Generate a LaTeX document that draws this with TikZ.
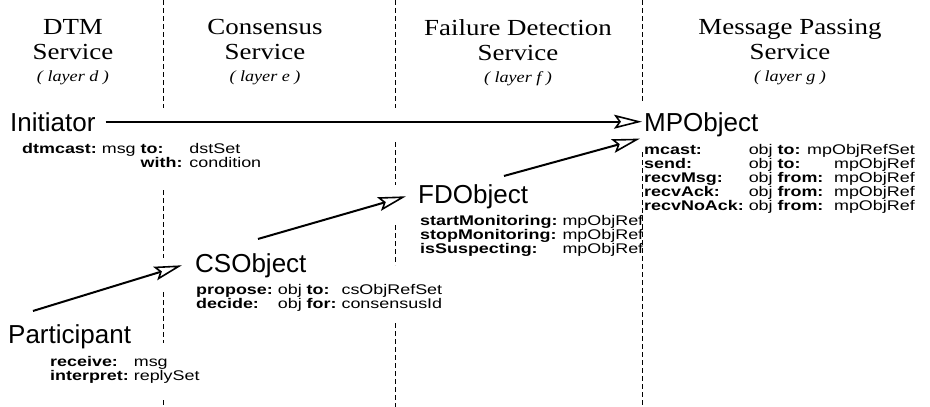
\documentclass[tikz,border=0pt]{standalone}
\usepackage{fontspec}
\setmainfont{Liberation Serif}[FakeStretch=1.17]
\newfontfamily\objfont{Liberation Sans}
\newfontfamily\opfont{Liberation Sans}[FakeStretch=1.28]
\usetikzlibrary{arrows.meta}

% styles for the service headings, the objects and their operations
\tikzset{
  svc/.style={font=\fontsize{23}{25}\selectfont, align=center, anchor=north, inner sep=0pt},
  obj/.style={font=\objfont\fontsize{26}{28}\selectfont, anchor=base west, inner sep=2pt},
  ops/.style={font=\opfont\fontsize{14}{13.2}\selectfont, anchor=base west, inner sep=0pt},
  sep/.style={line width=0.6pt, dash pattern=on 5pt off 3pt},
  link/.style={line width=2pt, -{Stealth[open, length=28pt, width=14pt, inset=5pt, line width=1.6pt]}},
}
\newcommand{\lyr}[1]{{\fontsize{15.5}{17}\selectfont\itshape ( layer #1 )}}

\begin{document}
\begin{tikzpicture}[x=1pt, y=-1pt]
    \useasboundingbox (0,0) rectangle (930,407);

    % layer separators (broken where text or arrows cross)
    \foreach \x/\a/\b in {163/0/108, 163/190/258, 163/292/343, 163/400/407,
                          395/0/108, 395/142/185, 395/225/265, 395/323/407,
                          642/0/103, 642/152/407}
        \draw[sep] (\x,\a) -- (\x,\b);

    % service headings
    \node[svc] (dtm) at (73,19)  {DTM\\Service\\[-3pt]\lyr{d}};
    \node[svc] (cs)  at (265,19) {Consensus\\Service\\[-3pt]\lyr{e}};
    \node[svc] (fd)  at (518,19) {Failure Detection\\Service\\[-3pt]\lyr{f}};
    \node[svc] (mp)  at (790,19) {Message Passing\\Service\\[-3pt]\lyr{g}};

    % DTM layer
    \node[obj] (init) at (8,131) {Initiator};
    \node[ops] (init-ops) at (22,153) {\begin{tabular}[t]{@{}l@{\ }l@{\ }l@{\hspace{7pt}}l@{}}
        \textbf{dtmcast:} & msg & \textbf{to:} & dstSet\\
        & & \textbf{with:} & condition
    \end{tabular}};
    \node[obj] (part) at (6,343) {Participant};
    \node[ops] (part-ops) at (50,366) {\begin{tabular}[t]{@{}l@{\ }l@{}}
        \textbf{receive:} & msg\\
        \textbf{interpret:} & replySet
    \end{tabular}};

    % consensus layer
    \node[obj] (cso) at (193,272) {CSObject};
    \node[ops] (cso-ops) at (196,294) {\begin{tabular}[t]{@{}l@{\ }l@{\ }l@{\ }l@{}}
        \textbf{propose:} & obj & \textbf{to:} & csObjRefSet\\
        \textbf{decide:} & obj & \textbf{for:} & consensusId
    \end{tabular}};

    % failure detection layer
    \node[obj] (fdo) at (416,203) {FDObject};
    \node[ops] (fdo-ops) at (420,225) {\begin{tabular}[t]{@{}l@{\ }l@{}}
        \textbf{startMonitoring:} & mpObjRef\\
        \textbf{stopMonitoring:} & mpObjRef\\
        \textbf{isSuspecting:} & mpObjRef
    \end{tabular}};

    % message passing layer
    \node[obj] (mpo) at (642,131) {MPObject};
    \node[ops] (mpo-ops) at (644,154) {\begin{tabular}[t]{@{}l@{\ }l@{\ }l@{\ }r@{}}
        \textbf{mcast:} & obj & \multicolumn{2}{@{}l@{}}{\textbf{to:} mpObjRefSet}\\
        \textbf{send:} & obj & \textbf{to:} & mpObjRef\\
        \textbf{recvMsg:} & obj & \textbf{from:} & mpObjRef\\
        \textbf{recvAck:} & obj & \textbf{from:} & mpObjRef\\
        \textbf{recvNoAck:} & obj & \textbf{from:} & mpObjRef
    \end{tabular}};

    % calls between the layers
    \draw[link] ([xshift=8pt]init.east) -- (init.east -| mpo.west);
    \draw[link] ([shift={(27,-11)}]part.north west) -- ([xshift=-11pt]cso.west);
    \draw[link] ([shift={(65,-12)}]cso.north west) -- ([xshift=-10pt]fdo.west);
    \draw[link] ([shift={(88,-6)}]fdo.north west) -- ([xshift=-2pt]mpo.south west);
\end{tikzpicture}
\end{document}
